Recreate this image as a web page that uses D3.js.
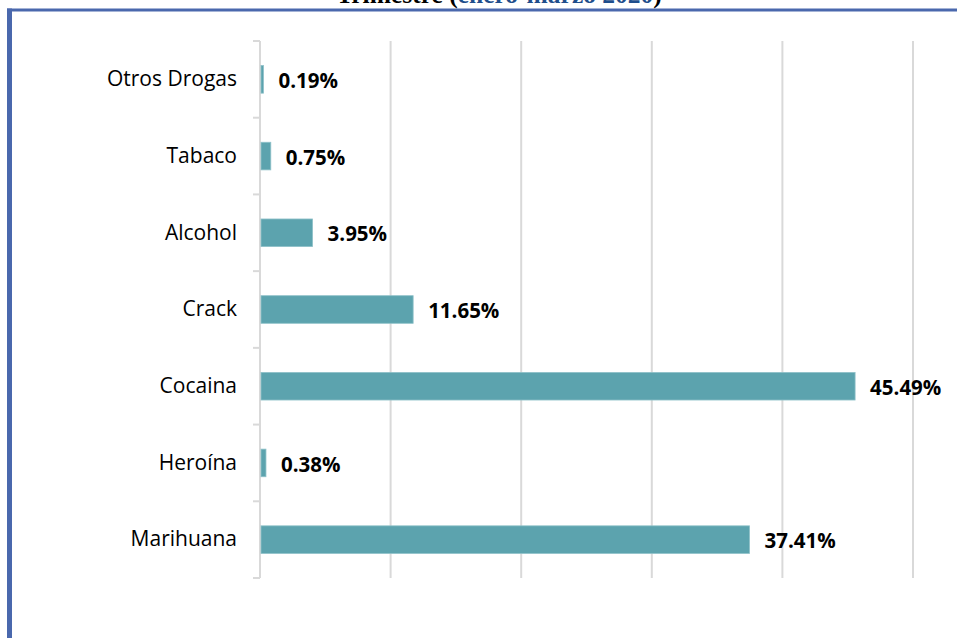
<!DOCTYPE html>
<html>
<head>
<meta charset="utf-8">
<script src="https://cdn.jsdelivr.net/npm/d3@7"></script>
<style>
  html, body { margin: 0; padding: 0; background: #fff; }
  svg { display: block; }
</style>
</head>
<body>
<svg id="chart" width="957" height="638"></svg>
<script>
const categories = ["Otros Drogas", "Tabaco", "Alcohol", "Crack", "Cocaina", "Heroína", "Marihuana"];
const values = [0.19, 0.75, 3.95, 11.65, 45.49, 0.38, 37.41];
const valueLabels = ["0.19%", "0.75%", "3.95%", "11.65%", "45.49%", "0.38%", "37.41%"];
const xTicks = [0, 10, 20, 30, 40, 50];

const svg = d3.select("#chart");

// page border (document frame)
svg.append("rect").attr("x", 7).attr("y", 8.5).attr("width", 5).attr("height", 640).attr("fill", "#4a68ad");
svg.append("rect").attr("x", 7).attr("y", 8.5).attr("width", 960).attr("height", 3).attr("fill", "#4a68ad");

// cut-off title (partly above the visible page, as in the reference)
const title = svg.append("text")
  .attr("x", 499).attr("y", 3)
  .attr("text-anchor", "middle")
  .attr("font-family", "'Liberation Serif', 'Times New Roman', serif")
  .attr("font-size", 25.5).attr("font-weight", "bold");
title.append("tspan").attr("fill", "#000").text("Trimestre (");
title.append("tspan").attr("fill", "#1f4e8c").text("enero-marzo 2020");
title.append("tspan").attr("fill", "#000").text(")");

const plotTop = 41, plotBottom = 578;
const x = d3.scaleLinear().domain([0, 50]).range([260, 913]);
const y = d3.scaleBand().domain(categories).range([plotTop, plotBottom]).paddingInner(0.64).paddingOuter(0.32);

// gridlines
svg.append("g").selectAll("line").data(xTicks.slice(1)).join("line")
  .attr("x1", d => x(d)).attr("x2", d => x(d))
  .attr("y1", plotTop).attr("y2", plotBottom)
  .attr("stroke", "#d9d9d9").attr("stroke-width", 2);

// category axis
svg.append("line").attr("x1", x(0)).attr("x2", x(0)).attr("y1", plotTop).attr("y2", plotBottom)
  .attr("stroke", "#d9d9d9").attr("stroke-width", 2);
const step = y.step();
svg.append("g").selectAll("line").data(d3.range(categories.length + 1)).join("line")
  .attr("x1", x(0) - 7).attr("x2", x(0))
  .attr("y1", i => plotTop + i * step).attr("y2", i => plotTop + i * step)
  .attr("stroke", "#d9d9d9").attr("stroke-width", 2);

// bars
svg.append("g").selectAll("rect").data(categories).join("rect")
  .attr("x", x(0) + 1)
  .attr("y", d => y(d))
  .attr("width", (d, i) => x(values[i]) - x(0))
  .attr("height", y.bandwidth())
  .attr("fill", "#5ca3ae")
  .attr("stroke", "#8fc1c9").attr("stroke-width", 0.8);

// category labels
svg.append("g").selectAll("text").data(categories).join("text")
  .attr("x", x(0) - 23)
  .attr("y", d => y(d) + y.bandwidth() / 2)
  .attr("dy", "0.32em")
  .attr("text-anchor", "end")
  .attr("font-family", "'Open Sans', sans-serif")
  .attr("font-size", 21)
  .attr("fill", "#000")
  .text(d => d);

// value labels
svg.append("g").selectAll("text").data(categories).join("text")
  .attr("x", (d, i) => x(values[i]) + 16)
  .attr("y", d => y(d) + y.bandwidth() / 2)
  .attr("dy", "0.42em")
  .attr("font-family", "'Open Sans', sans-serif")
  .attr("font-size", 20.5)
  .attr("font-weight", "bold")
  .attr("fill", "#000")
  .text((d, i) => valueLabels[i]);
</script>
</body>
</html>
